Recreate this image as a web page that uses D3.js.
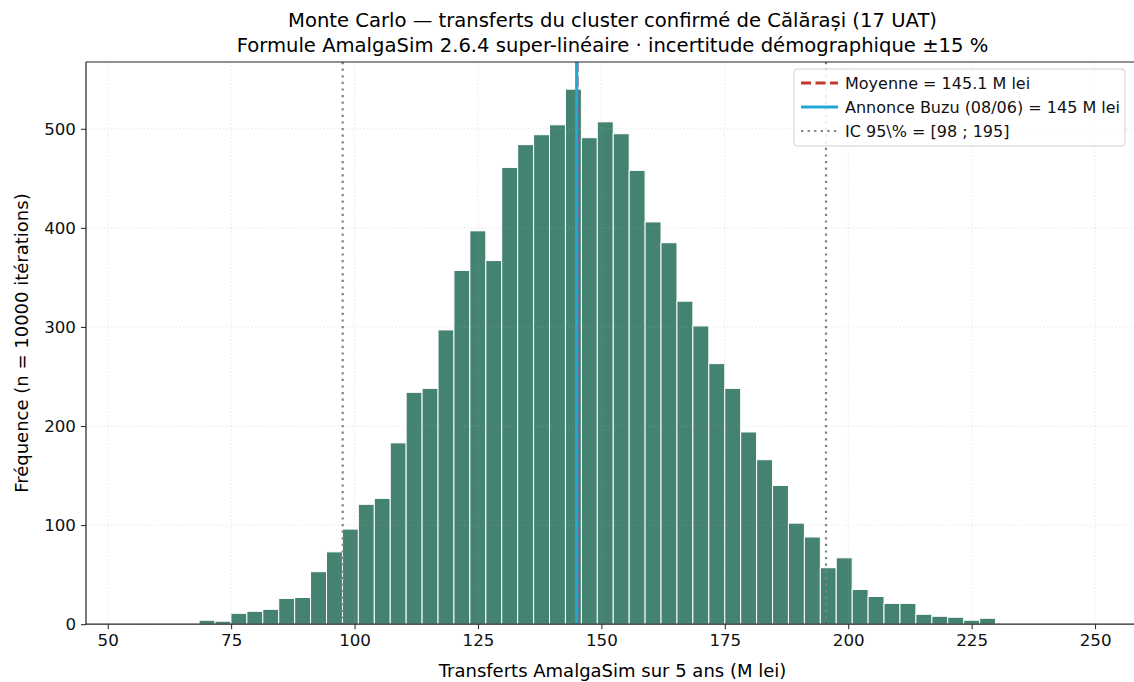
<!DOCTYPE html>
<html>
<head>
<meta charset="utf-8">
<script src="https://cdn.jsdelivr.net/npm/d3@7"></script>
<style>
  body { margin: 0; background: #fff; }
  svg { display: block; font-family: "DejaVu Sans", sans-serif; }
</style>
</head>
<body>
<div id="chart"></div>
<script>
// histogram bins (60 bins, M lei)
const binEdges = [
  55.60, 58.83, 62.05, 65.28, 68.51, 71.73, 74.96, 78.19, 81.41, 84.64,
  87.87, 91.09, 94.32, 97.55, 100.77, 104.00, 107.23, 110.45, 113.68, 116.91,
  120.13, 123.36, 126.59, 129.81, 133.04, 136.27, 139.49, 142.72, 145.95, 149.17,
  152.40, 155.63, 158.85, 162.08, 165.31, 168.53, 171.76, 174.99, 178.21, 181.44,
  184.67, 187.89, 191.12, 194.35, 197.57, 200.80, 204.03, 207.25, 210.48, 213.71,
  216.94, 220.16, 223.39, 226.62, 229.84, 233.07, 236.30, 239.52, 242.75, 245.98,
  249.20
];
const counts = [
  1, 0, 0, 0, 4, 3, 11, 13, 15, 26,
  27, 53, 73, 96, 121, 127, 183, 234, 238, 297,
  357, 397, 367, 461, 484, 494, 504, 540, 491, 507,
  495, 458, 406, 385, 326, 301, 263, 238, 194, 166,
  140, 102, 88, 57, 67, 35, 28, 21, 21, 10,
  8, 7, 4, 6, 0, 0, 0, 0, 0, 1
];
const xTicks = [50, 75, 100, 125, 150, 175, 200, 225, 250];
const yTicks = [0, 100, 200, 300, 400, 500];
const meanValue = 145.1;
const buzuValue = 145;
const ciBounds = [97.6, 195.5];
const legendLabels = [
  'Moyenne = 145.1 M lei',
  'Annonce Buzu (08/06) = 145 M lei',
  'IC 95\\% = [98 ; 195]'
];

const width = 1134;
const height = 682;
const plot = { left: 86, top: 62, right: 1139, bottom: 624.2 };

const bins = counts.map((c, i) => ({ x0: binEdges[i], x1: binEdges[i + 1], n: c }));

const x = d3.scaleLinear().domain([45.6, 258.9]).range([plot.left, plot.right]);
const y = d3.scaleLinear().domain([0, 567.4]).range([plot.bottom, plot.top]);

const svg = d3.select('#chart').append('svg')
  .attr('width', width)
  .attr('height', height);

svg.append('clipPath').attr('id', 'plotclip')
  .append('rect')
  .attr('x', plot.left).attr('y', plot.top)
  .attr('width', plot.right - plot.left).attr('height', plot.bottom - plot.top);

// bars
svg.append('g')
  .selectAll('rect')
  .data(bins)
  .join('rect')
  .attr('x', d => x(d.x0))
  .attr('y', d => y(d.n))
  .attr('width', d => x(d.x1) - x(d.x0))
  .attr('height', d => y(0) - y(d.n))
  .attr('fill', '#448272')
  .attr('stroke', '#fff')
  .attr('stroke-width', 1)
  .style('display', d => d.n > 0 ? null : 'none');

// grid (matplotlib puts it above patches)
const grid = svg.append('g').attr('clip-path', 'url(#plotclip)')
  .attr('stroke', '#b0b0b0').attr('stroke-opacity', 0.45)
  .attr('stroke-width', 0.8).attr('stroke-dasharray', '1.2,2.4');
grid.selectAll('.gx').data(xTicks).join('line')
  .attr('x1', d => x(d)).attr('x2', d => x(d))
  .attr('y1', plot.top).attr('y2', plot.bottom);
grid.selectAll('.gy').data(yTicks.slice(1)).join('line')
  .attr('x1', plot.left).attr('x2', plot.right)
  .attr('y1', d => y(d)).attr('y2', d => y(d));

// reference lines
const refs = svg.append('g').attr('clip-path', 'url(#plotclip)');
refs.append('line')
  .attr('x1', x(meanValue)).attr('x2', x(meanValue))
  .attr('y1', plot.top).attr('y2', plot.bottom)
  .attr('stroke', '#c0392b').attr('stroke-width', 2.8)
  .attr('stroke-dasharray', '10,4.5');
refs.append('line')
  .attr('x1', x(buzuValue)).attr('x2', x(buzuValue))
  .attr('y1', plot.top).attr('y2', plot.bottom)
  .attr('stroke', '#22a7d8').attr('stroke-width', 3.2);
refs.selectAll('.ci').data(ciBounds).join('line')
  .attr('x1', d => x(d)).attr('x2', d => x(d))
  .attr('y1', plot.top).attr('y2', plot.bottom)
  .attr('stroke', '#808080').attr('stroke-width', 2.2)
  .attr('stroke-dasharray', '2.2,4.4');

// axes
const xAxis = svg.append('g')
  .attr('transform', `translate(0,${plot.bottom})`)
  .call(d3.axisBottom(x).tickValues(xTicks).tickSize(5).tickPadding(5).tickSizeOuter(0));
const yAxis = svg.append('g')
  .attr('transform', `translate(${plot.left},0)`)
  .call(d3.axisLeft(y).tickValues(yTicks).tickSize(5).tickPadding(5).tickSizeOuter(0));

[xAxis, yAxis].forEach(g => {
  g.select('.domain').remove();
  g.selectAll('line').attr('stroke', '#222').attr('stroke-width', 1);
  g.selectAll('text')
    .attr('fill', '#111')
    .style('font-family', '"DejaVu Sans", sans-serif')
    .style('font-size', '16.7px');
});

// spines: left, bottom, top (right one falls off the picture)
const spines = svg.append('g').attr('stroke', '#222').attr('stroke-width', 1.2);
spines.append('line').attr('x1', plot.left).attr('x2', plot.left).attr('y1', plot.top).attr('y2', plot.bottom);
spines.append('line').attr('x1', plot.left).attr('x2', width).attr('y1', plot.bottom).attr('y2', plot.bottom);
spines.append('line').attr('x1', plot.left).attr('x2', width).attr('y1', plot.top).attr('y2', plot.top);

// titles
const cx = (plot.left + plot.right) / 2;
svg.append('text')
  .attr('x', cx).attr('y', 27)
  .attr('text-anchor', 'middle')
  .style('font-size', '19.6px')
  .text('Monte Carlo — transferts du cluster confirmé de Călărași (17 UAT)');
svg.append('text')
  .attr('x', cx).attr('y', 52)
  .attr('text-anchor', 'middle')
  .style('font-size', '19.6px')
  .text('Formule AmalgaSim 2.6.4 super-linéaire · incertitude démographique ±15 %');

svg.append('text')
  .attr('x', cx).attr('y', 677)
  .attr('text-anchor', 'middle')
  .style('font-size', '18px')
  .text('Transferts AmalgaSim sur 5 ans (M lei)');

svg.append('text')
  .attr('transform', `translate(28,${(plot.top + plot.bottom) / 2}) rotate(-90)`)
  .attr('text-anchor', 'middle')
  .style('font-size', '18px')
  .text('Fréquence (n = 10000 itérations)');

// legend
const legend = svg.append('g').attr('transform', 'translate(794,69)');
legend.append('rect')
  .attr('width', 331).attr('height', 77)
  .attr('rx', 3)
  .attr('fill', '#fff').attr('fill-opacity', 0.85)
  .attr('stroke', '#d0d0d0');
const legendStyles = [
  { stroke: '#c0392b', width: 2.8, dash: '10,4.5' },
  { stroke: '#22a7d8', width: 3.2, dash: null },
  { stroke: '#808080', width: 2.2, dash: '2.2,4.4' }
];
legendLabels.forEach((label, i) => {
  const row = legend.append('g').attr('transform', `translate(0,${14 + i * 24})`);
  row.append('line')
    .attr('x1', 7).attr('x2', 44)
    .attr('stroke', legendStyles[i].stroke)
    .attr('stroke-width', legendStyles[i].width)
    .attr('stroke-dasharray', legendStyles[i].dash);
  row.append('text')
    .attr('x', 51).attr('y', 5.5)
    .style('font-size', '16px')
    .attr('fill', '#111')
    .text(label);
});
</script>
</body>
</html>
